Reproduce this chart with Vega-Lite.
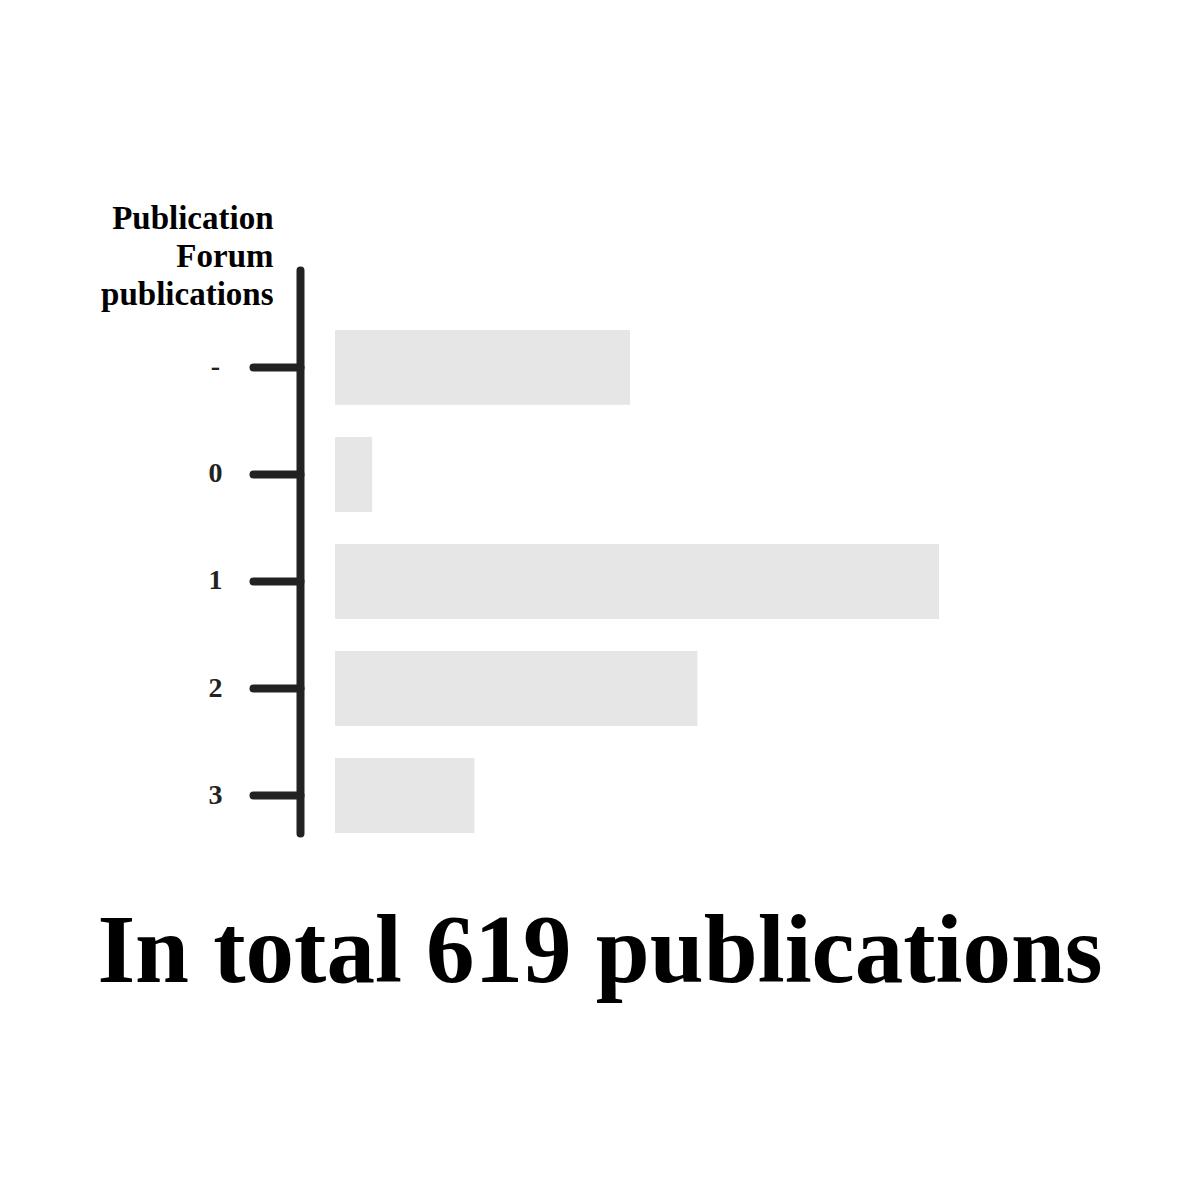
{
  "$schema": "https://vega.github.io/schema/vega-lite/v6.json",
  "width": 604,
  "height": 563,
  "autosize": "none",
  "padding": {"left": 335, "top": 270, "right": 261, "bottom": 367},
  "background": "#ffffff",
  "config": {"view": {"stroke": null}, "font": "Liberation Serif"},
  "title": {
    "text": "In total 619 publications",
    "orient": "bottom",
    "anchor": "middle",
    "dx": -37,
    "offset": 72,
    "font": "Liberation Serif",
    "fontSize": 97,
    "fontWeight": "bold",
    "color": "#000000"
  },
  "data": {
    "values": [
      {"forum": "-", "count": 127},
      {"forum": "0", "count": 16},
      {"forum": "1", "count": 260},
      {"forum": "2", "count": 156},
      {"forum": "3", "count": 60}
    ]
  },
  "mark": {"type": "bar", "color": "#e6e6e6"},
  "encoding": {
    "y": {
      "field": "forum",
      "type": "nominal",
      "sort": ["-", "0", "1", "2", "3"],
      "scale": {"paddingInner": 0.3, "paddingOuter": 0.28, "align": 1},
      "axis": {
        "title": ["Publication", "Forum", "publications"],
        "titleAngle": 0,
        "titleAlign": "right",
        "titleBaseline": "alphabetic",
        "titleX": -27,
        "titleY": -42,
        "titleFont": "Liberation Serif",
        "titleFontSize": 33,
        "titleFontWeight": "bold",
        "titleLineHeight": 38,
        "titleColor": "#000000",
        "offset": 35,
        "domainColor": "#222222",
        "domainWidth": 8,
        "domainCap": "round",
        "tickColor": "#222222",
        "tickWidth": 8,
        "tickCap": "round",
        "tickSize": 47,
        "labelPadding": 38,
        "labelAlign": "center",
        "labelFont": "Liberation Serif",
        "labelFontSize": 28,
        "labelFontWeight": "bold",
        "labelColor": "#222222"
      }
    },
    "x": {
      "field": "count",
      "type": "quantitative",
      "scale": {"domain": [0, 260]},
      "axis": null
    }
  }
}
